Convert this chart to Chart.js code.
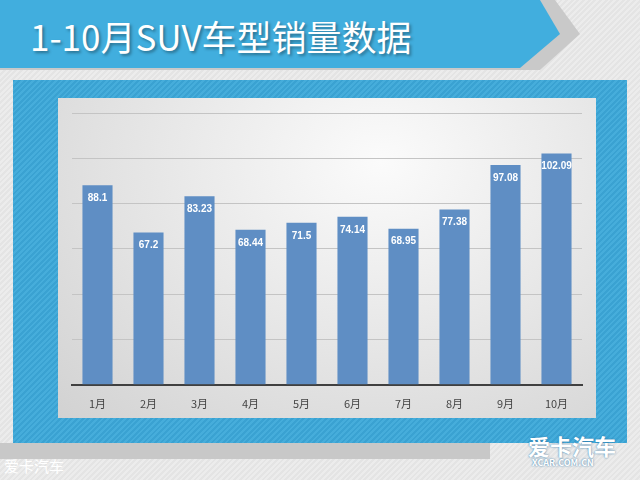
<!DOCTYPE html>
<html><head><meta charset="utf-8">
<script src="https://cdn.jsdelivr.net/npm/chart.js@4"></script>
<style>
body{margin:0;width:640px;height:480px;overflow:hidden;position:relative;background:repeating-linear-gradient(135deg,#e4e4e4 0 2px,#ececec 2px 4px);font-family:"Noto Sans CJK SC",sans-serif}
#banner{position:absolute;left:0;top:0;width:560px;height:68px;background:#41aede;clip-path:polygon(0 0,540px 0,560px 34px,520px 68px,0 68px)}
#bshadow{position:absolute;left:0;top:0;width:580px;height:70px;background:#c9c9c9;clip-path:polygon(0 0,555px 0,580px 34px,540px 70px,0 70px)}
#title{position:absolute;left:30px;top:10px;color:#fff;font-size:35px;text-shadow:2px 2px 3px rgba(0,0,0,.35);white-space:nowrap}
#frame{position:absolute;left:13px;top:80px;width:614px;height:363px;background:repeating-linear-gradient(135deg,#3aa2d2 0 2px,#46addb 2px 4px)}
#panel{position:absolute;left:58px;top:98px;width:538px;height:320px;background:radial-gradient(ellipse at 60% 20%,#fbfbfb,#d2d2d2)}
#foot{position:absolute;left:0;top:443px;width:490px;height:16px;background:#c8c8c8}
#wm{position:absolute;left:4px;top:455px;color:#fff;font-size:15px}
#logo{position:absolute;left:528px;top:434px;color:#fff;font-weight:bold;font-size:22px;line-height:22px;text-shadow:0 0 2px #2a6fa0}
#logo2{position:absolute;left:532px;top:456px;color:#fff;font-size:9px;font-weight:bold;text-shadow:0 0 2px #2a6fa0}
#wrap{position:absolute;left:58px;top:98px;width:538px;height:320px}
</style></head><body>
<div id="bshadow"></div><div id="banner"></div>
<div id="title">1-10月SUV车型销量数据</div>
<div id="foot"></div>
<div id="frame"></div><div id="panel"></div>
<div id="wm">爱卡汽车</div>
<div id="logo">爱卡汽车</div><div id="logo2">XCAR.COM.CN</div>
<div id="wrap"><canvas id="c" width="538" height="320"></canvas></div>
<script>
const months=["1月","2月","3月","4月","5月","6月","7月","8月","9月","10月"];
const sales=[88.1,67.2,83.23,68.44,71.5,74.14,68.95,77.38,97.08,102.09];
const labelsPlugin={id:'lbl',afterDatasetsDraw(ch){const ctx=ch.ctx;const m=ch.getDatasetMeta(0);ctx.save();ctx.fillStyle='#fff';ctx.font='bold 10px "Liberation Sans", sans-serif';ctx.textAlign='center';ctx.textBaseline='top';m.data.forEach((b,i)=>{ctx.fillText(String(sales[i]),b.x,b.y+8);});ctx.restore();}};
new Chart(document.getElementById('c'),{type:'bar',data:{labels:months,datasets:[{data:sales,backgroundColor:'#5f8ec4',categoryPercentage:1,barPercentage:0.59}]},
options:{responsive:false,animation:false,layout:{padding:{left:14,right:14,top:15,bottom:4}},plugins:{legend:{display:false},tooltip:{enabled:false}},
scales:{x:{grid:{display:false},border:{color:'#404040',width:2},ticks:{color:'#444',font:{size:11,family:'"Noto Sans CJK SC"'},padding:4}},
y:{min:0,max:120,ticks:{display:false,stepSize:20},grid:{color:'#c4c4c4',drawTicks:false},border:{display:false}}}},plugins:[labelsPlugin]});
</script></body></html>
